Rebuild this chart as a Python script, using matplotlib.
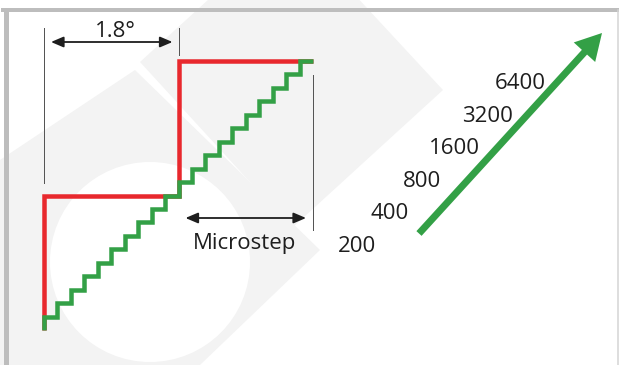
"""Stepper motor full step vs microstep diagram."""

import matplotlib
matplotlib.use("Agg")
import matplotlib.pyplot as plt
from matplotlib.patches import FancyArrowPatch, FancyArrow, Polygon, Circle
import numpy as np

# data
FULL_STEPS = 2
MICROSTEPS_PER_STEP = 10
resolutions = [200, 400, 800, 1600, 3200, 6400]
step_angle_label = "1.8°"
micro_label = "Microstep"

RED = "#e8282d"
GREEN = "#33a046"
DARK = "#1e1e1e"
LINE = "#555555"
WM = "#f3f3f3"
FONT = "Open Sans"

W, H = 619, 365
PX = 72 / 100  # points per pixel


def staircase(n_steps, size):
    k = np.arange(n_steps + 1) * size
    return np.repeat(k, 2)[:-1], np.repeat(k, 2)[1:]


fig = plt.figure(figsize=(W / 100, H / 100), dpi=100)
bg = fig.add_axes([0, 0, 1, 1])
bg.set_xlim(0, W)
bg.set_ylim(H, 0)
bg.axis("off")

# faint watermark
bg.add_patch(Polygon([(140, 62), (290, -75), (443, 90), (292, 228)],
                     closed=True, color=WM, lw=0, zorder=0))
bg.add_patch(Polygon([(0, 160), (135, 70), (320, 250), (200, 365), (0, 365)],
                     closed=True, color=WM, lw=0, zorder=0))
bg.add_patch(Circle((150, 262), 100, color="white", lw=0, zorder=0.5))

# window frame
bg.plot([5.5, 5.5], [10, H], color="#bdbdbd", lw=5 * PX, zorder=1)
bg.plot([3, W], [10, 10], color="#bdbdbd", lw=4 * PX, zorder=1)
bg.plot([617.5, 617.5], [10, H], color="#d4d4d4", lw=1.5 * PX, zorder=1)

# staircases in microstep units
x0, y0, unit = 44, 330, 13.45
n_micro = FULL_STEPS * MICROSTEPS_PER_STEP
span = n_micro * unit
st = fig.add_axes([x0 / W, (H - y0) / H, span / W, span / H])
st.set_xlim(0, n_micro)
st.set_ylim(0, n_micro)
st.axis("off")

rx, ry = staircase(FULL_STEPS, MICROSTEPS_PER_STEP)
gx, gy = staircase(n_micro, 1)
st.plot(rx, ry, color=RED, lw=4.5 * PX, solid_joinstyle="miter",
        solid_capstyle="butt", clip_on=False, zorder=2)
st.plot(gx, gy, color=GREEN, lw=4.5 * PX, solid_joinstyle="miter",
        solid_capstyle="butt", clip_on=False, zorder=3)

# dimension lines
x_mid = x0 + MICROSTEPS_PER_STEP * unit
x_end = x0 + span
for xv, ya, yb in [(x0, 28, 183), (x_mid, 28, 55), (x_end, 75, 230)]:
    bg.plot([xv, xv], [ya, yb], color=LINE, lw=1.0 * PX, zorder=2)

for xa, xb, yv in [(x0 + 7, x_mid - 6, 42), (x_mid + 7, x_end - 7, 218)]:
    bg.add_patch(FancyArrowPatch((xa, yv), (xb, yv),
                                 arrowstyle="<|-|>,head_length=0.75,head_width=0.32",
                                 mutation_scale=10, color=DARK, lw=1.3,
                                 shrinkA=0, shrinkB=0, zorder=4))

bg.text(115, 37, step_angle_label, ha="center", va="baseline",
        fontsize=16, family=FONT, color=DARK)
bg.text(245, 249, micro_label, ha="center", va="baseline",
        fontsize=16, family=FONT, color=DARK)

# resolution labels along the arrow
for i, r in enumerate(resolutions):
    bg.text(357 + i * 32.6, 252 - i * 32.6, str(r), ha="center",
            va="baseline", fontsize=16, family=FONT, color=DARK)

bg.add_patch(FancyArrow(419, 233.5, 183, -200.5, width=7, head_width=29,
                        head_length=26, length_includes_head=True,
                        color=GREEN, lw=0, zorder=4))

fig.savefig("out.png", dpi=100)
